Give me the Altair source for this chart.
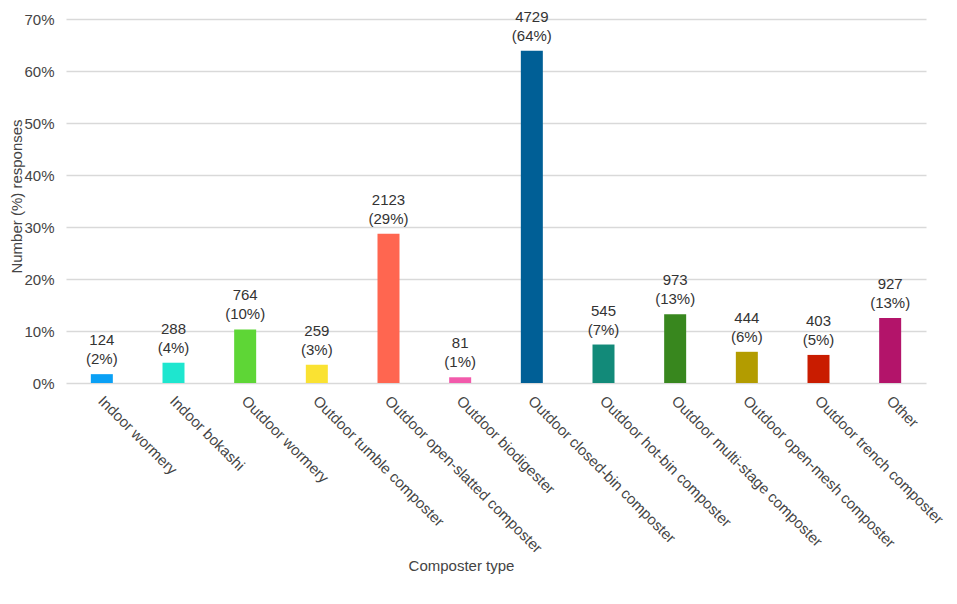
import altair as alt
import pandas as pd

categories = [
    "Indoor wormery", "Indoor bokashi", "Outdoor wormery", "Outdoor tumble composter",
    "Outdoor open-slatted composter", "Outdoor biodigester", "Outdoor closed-bin composter",
    "Outdoor hot-bin composter", "Outdoor multi-stage composter", "Outdoor open-mesh composter",
    "Outdoor trench composter", "Other",
]
counts = [124, 288, 764, 259, 2123, 81, 4729, 545, 973, 444, 403, 927]
share = [0.017, 0.039, 0.103, 0.035, 0.287, 0.011, 0.639, 0.074, 0.132, 0.060, 0.054, 0.125]
pct_labels = ["2%", "4%", "10%", "3%", "29%", "1%", "64%", "7%", "13%", "6%", "5%", "13%"]
colors = ["#0aa0f5", "#1ee6cf", "#5ed636", "#fae232", "#ff6650", "#f25aab",
          "#005f96", "#128a79", "#38871e", "#b39c00", "#c91c00", "#b3146a"]

df = pd.DataFrame({
    "cat": categories,
    "count": [str(c) for c in counts],
    "share": share,
    "pct": [f"({p})" for p in pct_labels],
})

FONT = "Liberation Sans"

x = alt.X("cat:N", sort=categories, title="Composter type",
          scale=alt.Scale(paddingInner=0, paddingOuter=0),
          axis=alt.Axis(labelAngle=45, labelAlign="left", labelBaseline="top",
                        labelPadding=10, labelOffset=4, ticks=False, domain=False, grid=False,
                        labelLimit=400,
                        labelFontSize=15, labelColor="#444", labelFont=FONT,
                        titleFont=FONT, titleFontSize=15, titleFontWeight="normal",
                        titleColor="#444", titleX=395, titleY=182,
                        titleBaseline="middle", titleAlign="center"))
y = alt.Y("share:Q", title="Number (%) responses",
          scale=alt.Scale(domain=[0, 0.7], nice=False),
          axis=alt.Axis(values=[0, 0.1, 0.2, 0.3, 0.4, 0.5, 0.6, 0.7], format=".0%",
                        ticks=False, domain=False, gridColor="#d9d9d9", gridWidth=1.5,
                        labelFontSize=15, labelColor="#444", labelFont=FONT, labelPadding=12,
                        titleFont=FONT, titleFontSize=15, titleFontWeight="normal",
                        titleColor="#444", titleX=-50, titleY=177, titleAngle=270,
                        titleAlign="center", titleBaseline="middle"))

bars = alt.Chart(df).mark_bar(size=22).encode(
    x=x, y=y,
    color=alt.Color("cat:N", sort=categories,
                    scale=alt.Scale(domain=categories, range=colors), legend=None),
)

count_text = alt.Chart(df).mark_text(baseline="bottom", dy=-26, fontSize=15, font=FONT,
                                      color="#333").encode(
    x=alt.X("cat:N", sort=categories),
    y="share:Q",
    text="count:N",
)
pct_text = alt.Chart(df).mark_text(baseline="bottom", dy=-7, fontSize=15, font=FONT,
                                    color="#333").encode(
    x=alt.X("cat:N", sort=categories),
    y="share:Q",
    text="pct:N",
)

chart = (bars + count_text + pct_text).properties(
    width=860, height=364,
    autosize=alt.AutoSizeParams(type="none"),
    padding={"left": 58, "top": 11, "right": 23, "bottom": 192},
).configure_view(stroke=None)

chart.save("out.html", embed_options={"renderer": "svg", "actions": False})
